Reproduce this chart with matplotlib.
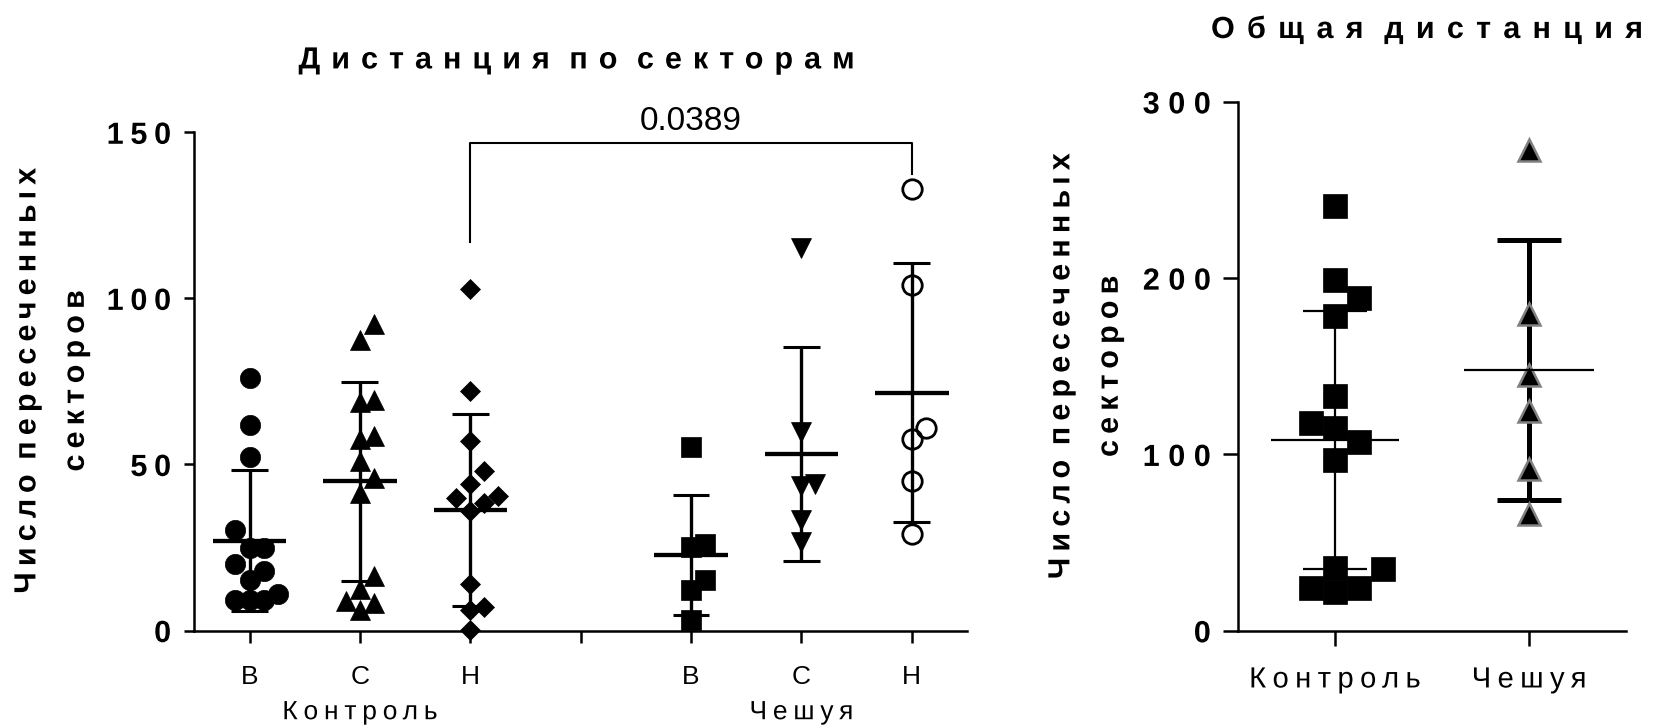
import numpy as np
import matplotlib
matplotlib.use("Agg")
import matplotlib.pyplot as plt
from matplotlib.path import Path
from matplotlib.patheffects import AbstractPathEffect

plt.rcParams["font.family"] = ["Liberation Sans", "DejaVu Sans"]

# sector data
sector_labels = ["В", "С", "Н", "В", "С", "Н"]
group_names = ["Контроль", "Чешуя"]

ctrl_B = [76.0, 61.9, 52.2, 30.2, 24.9, 24.9, 20.0, 17.9, 15.2, 10.9, 9.3, 9.3, 9.3]
ctrl_C = [92.4, 87.6, 69.4, 68.8, 58.6, 57.6, 51.1, 45.8, 41.5, 16.3, 12.5, 8.8, 8.3, 6.1]
ctrl_H = [102.9, 72.0, 57.0, 47.9, 44.2, 40.4, 39.9, 38.3, 36.1, 14.0, 7.2, 6.1, 0.2]
scale_B = [55.1, 25.9, 25.2, 15.2, 12.2, 3.1]
scale_C = [115.2, 59.7, 44.2, 43.6, 33.4, 26.5]
scale_H = [132.8, 103.9, 61.0, 57.8, 44.9, 29.2]

sector_means = [27.0, 44.9, 36.3, 22.7, 53.2, 71.6]
sector_sd = [21.2, 30.0, 29.0, 18.0, 32.3, 39.0]

p_label = "0.0389"
p_pair = (2, 5)  # Контроль Н vs Чешуя Н

# total distance
total_ctrl = [240.9, 198.8, 188.7, 178.5, 133.0, 117.8, 114.8, 107.3, 97.0,
              35.8, 35.2, 24.1, 24.1, 22.1]
total_scale = [272.7, 179.6, 145.1, 124.9, 91.5, 66.2]
total_means = [108.2, 147.8]
total_sd = [73.3, 73.6]

ylabel = "Число пересеченных\nсекторов"


class LetterSpacing(AbstractPathEffect):
    """Spread the glyphs of a text apart (GraphPad-style tracking)."""

    def __init__(self, spacing, align="center"):
        super().__init__()
        self.spacing = spacing * 100  # text paths use 100 units per em
        self.align = align

    def draw_path(self, renderer, gc, tpath, affine, rgbFace=None):
        verts = np.array(tpath.vertices, dtype=float)
        codes = tpath.codes
        if codes is None or len(verts) == 0:
            renderer.draw_path(gc, tpath, affine, rgbFace)
            return
        starts = np.flatnonzero(codes == Path.MOVETO)
        ends = np.append(starts[1:], len(verts))
        spans = []
        for s, e in zip(starts, ends):
            keep = codes[s:e] != Path.CLOSEPOLY
            xs = verts[s:e, 0][keep]
            spans.append((xs.min(), xs.max(), s, e))
        spans.sort()
        glyph, cur_max, cluster = -1, -np.inf, []
        for xmin, xmax, s, e in spans:
            if xmin > cur_max - 1:
                glyph += 1
                cur_max = xmax
            else:
                cur_max = max(cur_max, xmax)
            cluster.append((glyph, s, e))
        n = glyph + 1
        base = {"center": (n - 1) / 2, "right": n - 1}.get(self.align, 0)
        for g, s, e in cluster:
            verts[s:e, 0] += (g - base) * self.spacing
        renderer.draw_path(gc, Path(verts, codes), affine, rgbFace)


def swarm_offsets(values, y_ppu, x_ppc, step_px, ax_px, ay_px):
    """Beeswarm from the bottom up: nudge points sideways until they fit."""
    offs = np.zeros(len(values))
    placed = []
    for i in np.argsort(values, kind="stable"):
        y = values[i] * y_ppu
        for k in range(80):
            c = (k + 1) // 2 * (1 if k % 2 else -1)
            x = c * step_px
            if all(((x - px) / ax_px) ** 2 + ((y - py) / ay_px) ** 2 >= 1
                   for px, py in placed):
                break
        placed.append((x, y))
        offs[i] = x / x_ppc
    return offs


def style_axis(ax, tick_len, xpad, ypad, yspacing):
    for side in ["top", "right"]:
        ax.spines[side].set_visible(False)
    for side in ["left", "bottom"]:
        ax.spines[side].set_linewidth(1.8)
    ax.tick_params(axis="y", length=tick_len[1], width=1.8, pad=ypad, labelsize=22)
    ax.tick_params(axis="x", length=tick_len[0], width=1.8, pad=xpad)
    for lab in ax.get_yticklabels():
        lab.set_fontweight("bold")
        lab.set_path_effects([LetterSpacing(yspacing, "right")])


fig = plt.figure(figsize=(16.65, 7.28), dpi=100)

# ---------------- left panel ----------------
ax1 = fig.add_axes([0.1167, 0.1339, 0.4641, 0.6844])
ax1.set_xlim(-0.5, 6.5)
ax1.set_ylim(0, 150)

positions = [0, 1, 2, 4, 5, 6]
groups = [ctrl_B, ctrl_C, ctrl_H, scale_B, scale_C, scale_H]
markers = [
    dict(marker="o", ms=14.6, mfc="black", mec="black", mew=0.5),
    dict(marker="^", ms=15.0, mfc="black", mec="black", mew=0.5),
    dict(marker="D", ms=10.4, mfc="black", mec="black", mew=0.5),
    dict(marker="s", ms=14.6, mfc="black", mec="black", mew=0.5),
    dict(marker="v", ms=15.0, mfc="black", mec="black", mew=0.5),
    dict(marker="o", ms=14.0, mfc="none", mec="black", mew=2.0),
]

for pos, vals, mk, m, s in zip(positions, groups, markers, sector_means, sector_sd):
    offs = swarm_offsets(vals, 3.32, 110, 14, 14, 18)
    ax1.plot(pos + offs, vals, linestyle="none", clip_on=False, zorder=3, **mk)
    ax1.hlines(m, pos - 0.333, pos + 0.333, color="black", lw=3.1, zorder=4)
    ax1.vlines(pos, m - s, m + s, color="black", lw=2.4, zorder=4)
    ax1.hlines([m - s, m + s], pos - 0.167, pos + 0.167, color="black", lw=2.2, zorder=4)

# significance bracket
xa, xb = positions[p_pair[0]], positions[p_pair[1]]
ax1.plot([xa, xa, xb, xb], [117.1, 146.8, 146.8, 137.5], color="black", lw=1.5,
         clip_on=False)
ax1.text((xa + xb) / 2, 148.5, p_label, ha="center", va="bottom", fontsize=24)

ax1.set_xticks([0, 1, 2, 3, 4, 5, 6])
ax1.set_xticklabels(sector_labels[:3] + [""] + sector_labels[3:], fontsize=19)
ax1.set_yticks([0, 50, 100, 150])
style_axis(ax1, (8.4, 7.2), 16.5, 9.5, 0.22)

xt = ax1.get_xaxis_transform()
for x, name in zip([1, 5], group_names):
    ax1.text(x, -0.178, name, transform=xt, ha="center", va="baseline", fontsize=19,
             path_effects=[LetterSpacing(0.22)])

fig.text(0.3463, 0.917, "Дистанция по секторам", ha="center", va="center",
         fontsize=22, fontweight="bold", path_effects=[LetterSpacing(0.36)])
fig.text(0.031, 0.477, ylabel, ha="center", va="center", rotation=90,
         multialignment="center", fontsize=22, fontweight="bold", linespacing=1.8,
         path_effects=[LetterSpacing(0.2)])

# ---------------- right panel ----------------
ax2 = fig.add_axes([0.7434, 0.1336, 0.2332, 0.7265])
ax2.set_xlim(-0.5, 1.5)
ax2.set_ylim(0, 300)

offs = swarm_offsets(total_ctrl, 1.763, 193.6, 12, 22, 24)
ax2.plot(0 + offs, total_ctrl, linestyle="none", marker="s", ms=16.6,
         mfc="black", mec="black", mew=0.5, clip_on=False, zorder=3)
ax2.hlines(total_means[0], -0.33, 0.33, color="black", lw=1.6, zorder=4)
ax2.vlines(0, total_means[0] - total_sd[0], total_means[0] + total_sd[0],
           color="black", lw=1.6, zorder=4)
ax2.hlines([total_means[0] - total_sd[0], total_means[0] + total_sd[0]],
           -0.166, 0.166, color="black", lw=1.6, zorder=4)

offs = swarm_offsets(total_scale, 1.763, 193.6, 12, 22, 24)
ax2.vlines(1, total_means[1] - total_sd[1], total_means[1] + total_sd[1],
           color="black", lw=3.6, zorder=2)
ax2.hlines([total_means[1] - total_sd[1], total_means[1] + total_sd[1]],
           1 - 0.166, 1 + 0.166, color="black", lw=3.6, zorder=2)
ax2.plot(1 + offs, total_scale, linestyle="none", marker="^", ms=15.5,
         mfc="black", mec="#808080", mew=1.8, clip_on=False, zorder=3)
ax2.hlines(total_means[1], 1 - 0.336, 1 + 0.336, color="black", lw=1.6, zorder=4)

ax2.set_xticks([0, 1])
ax2.set_xticklabels(group_names, fontsize=21)
for lab in ax2.get_xticklabels():
    lab.set_path_effects([LetterSpacing(0.22)])
ax2.set_yticks([0, 100, 200, 300])
style_axis(ax2, (10.8, 10.8), 14.2, 8.6, 0.28)

fig.text(0.857, 0.959, "Общая дистанция", ha="center", va="center",
         fontsize=22, fontweight="bold", path_effects=[LetterSpacing(0.4)])
fig.text(0.652, 0.497, ylabel, ha="center", va="center", rotation=90,
         multialignment="center", fontsize=22, fontweight="bold", linespacing=1.8,
         path_effects=[LetterSpacing(0.2)])

fig.savefig("out.png", dpi=100)
